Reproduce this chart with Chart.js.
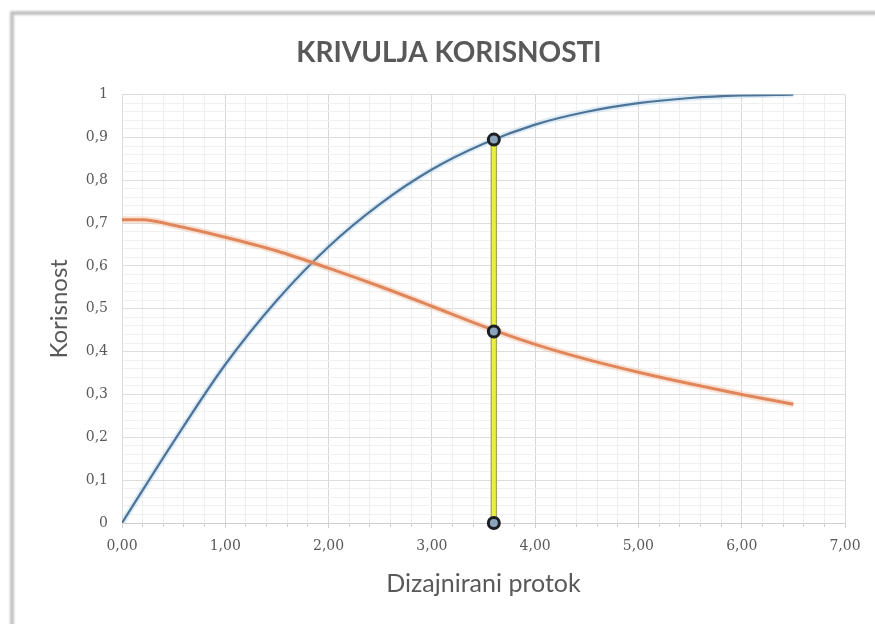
<!DOCTYPE html>
<html lang="hr">
<head>
    <meta charset="UTF-8">
    <title>Krivulja korisnosti</title>
    <script src="https://cdn.jsdelivr.net/npm/chart.js"></script>
    <style>
        body {
            margin: 0;
            background-color: #fff;
            overflow: hidden;
        }
        .frame {
            position: absolute;
            left: 10px;
            top: 11px;
            width: 900px;
            height: 700px;
            border-top: 4px solid #c2c2c2;
            border-left: 4px solid #c2c2c2;
            filter: blur(0.8px);
        }
        .wrap {
            position: absolute;
            left: 0;
            top: 0;
            width: 875px;
            height: 624px;
        }
    </style>
</head>
<body>
    <div class="frame"></div>
    <div class="wrap">
        <canvas id="utilityChart" width="875" height="624"></canvas>
    </div>

    <script>
        // values
        var blueX = [0, 0.5, 1, 1.5, 2, 2.5, 3, 3.5, 4, 4.5, 5, 5.5, 6, 6.5];
        var blueY = [0, 0.19, 0.37, 0.52, 0.645, 0.745, 0.825, 0.885, 0.93, 0.96, 0.98, 0.992, 0.998, 1.0];

        var orangeX = [0, 0.2, 0.5, 1, 1.5, 2, 2.5, 3, 3.5, 4, 4.5, 5, 5.5, 6, 6.5];
        var orangeY = [0.708, 0.708, 0.695, 0.667, 0.635, 0.595, 0.552, 0.506, 0.459, 0.417, 0.382, 0.352, 0.325, 0.3, 0.277];

        var designX = 3.6;
        var markerY = [0.895, 0.447, 0];

        var xTicks = [0, 1, 2, 3, 4, 5, 6, 7];
        var yTicks = [0, 0.1, 0.2, 0.3, 0.4, 0.5, 0.6, 0.7, 0.8, 0.9, 1];

        function toPoints(xs, ys) {
            return xs.map(function (x, i) { return { x: x, y: ys[i] }; });
        }

        var markers = markerY.map(function (y) { return { x: designX, y: y }; });
        var yellowLine = [{ x: designX, y: 0 }, { x: designX, y: markerY[0] }];

        function isMajor(v, step) {
            var r = v / step;
            return Math.abs(r - Math.round(r)) < 1e-6;
        }

        var ctx = document.getElementById('utilityChart').getContext('2d');
        var chart = new Chart(ctx, {
            type: 'scatter',
            data: {
                datasets: [
                    {
                        data: markers,
                        showLine: false,
                        clip: false,
                        pointRadius: 5.5,
                        pointBorderWidth: 3,
                        pointBorderColor: '#1b1e22',
                        pointBackgroundColor: '#8ba3bb'
                    },
                    {
                        data: yellowLine,
                        showLine: true,
                        borderColor: '#e9ef3c',
                        borderWidth: 4,
                        pointRadius: 0
                    },
                    {
                        data: yellowLine,
                        showLine: true,
                        borderColor: '#a4a65a',
                        borderWidth: 6.5,
                        pointRadius: 0
                    },
                    {
                        data: toPoints(orangeX, orangeY),
                        showLine: true,
                        borderColor: '#e0865a',
                        borderWidth: 3,
                        pointRadius: 0,
                        cubicInterpolationMode: 'monotone'
                    },
                    {
                        data: toPoints(orangeX, orangeY),
                        showLine: true,
                        borderColor: 'rgba(240,175,140,0.35)',
                        borderWidth: 7,
                        pointRadius: 0,
                        cubicInterpolationMode: 'monotone'
                    },
                    {
                        data: toPoints(blueX, blueY),
                        showLine: true,
                        borderColor: '#4d7398',
                        borderWidth: 2.2,
                        pointRadius: 0,
                        cubicInterpolationMode: 'monotone'
                    },
                    {
                        data: toPoints(blueX, blueY),
                        showLine: true,
                        borderColor: 'rgba(160,200,230,0.35)',
                        borderWidth: 6,
                        pointRadius: 0,
                        cubicInterpolationMode: 'monotone'
                    }
                ]
            },
            options: {
                responsive: false,
                animation: false,
                events: [],
                layout: {
                    padding: { left: 53, right: 30, top: 0, bottom: 0 }
                },
                plugins: {
                    legend: { display: false },
                    tooltip: { enabled: false },
                    title: {
                        display: true,
                        text: 'KRIVULJA KORISNOSTI',
                        color: '#595959',
                        font: { family: 'Lato', size: 28, weight: 'bold' },
                        padding: { top: 36, bottom: 25 }
                    }
                },
                scales: {
                    xMinor: {
                        type: 'linear',
                        position: 'bottom',
                        weight: 0,
                        min: 0,
                        max: 7,
                        ticks: { stepSize: 0.2, display: false },
                        grid: {
                            color: function (c) { return isMajor(c.tick.value, 1) ? 'rgba(0,0,0,0)' : '#eeeeee'; },
                            tickColor: '#d0d0d0',
                            tickLength: 4
                        },
                        border: { display: false },
                        afterFit: function (s) { s.height = 0; }
                    },
                    x: {
                        type: 'linear',
                        position: 'bottom',
                        weight: 1,
                        min: 0,
                        max: 7,
                        afterBuildTicks: function (s) {
                            s.ticks = xTicks.map(function (v) { return { value: v }; });
                        },
                        ticks: {
                            color: '#595959',
                            font: { family: 'DejaVu Serif', size: 14 },
                            padding: 10,
                            callback: function (v) { return v.toFixed(2).replace('.', ','); }
                        },
                        grid: {
                            color: '#d9d9d9',
                            tickColor: '#d0d0d0',
                            tickLength: 5
                        },
                        border: { color: '#d0d0d0' },
                        title: {
                            display: true,
                            text: 'Dizajnirani protok',
                            color: '#595959',
                            font: { family: 'Lato', size: 25 },
                            padding: { top: 0, bottom: 25 }
                        },
                        afterFit: function (s) { s.height = 101; }
                    },
                    yMinor: {
                        type: 'linear',
                        position: 'left',
                        weight: 0,
                        min: 0,
                        max: 1,
                        ticks: { stepSize: 0.02, display: false },
                        grid: {
                            color: function (c) { return isMajor(c.tick.value, 0.1) ? 'rgba(0,0,0,0)' : '#f0f0f0'; },
                            drawTicks: false
                        },
                        border: { display: false },
                        afterFit: function (s) { s.width = 0; }
                    },
                    y: {
                        type: 'linear',
                        position: 'left',
                        weight: 1,
                        min: 0,
                        max: 1,
                        afterBuildTicks: function (s) {
                            s.ticks = yTicks.map(function (v) { return { value: v }; });
                        },
                        ticks: {
                            color: '#595959',
                            font: { family: 'DejaVu Serif', size: 14 },
                            padding: 14,
                            callback: function (v) {
                                if (v === 0 || v === 1) return String(v);
                                return v.toFixed(1).replace('.', ',');
                            }
                        },
                        grid: {
                            color: '#dddddd',
                            drawTicks: false
                        },
                        border: { color: '#dddddd' },
                        title: {
                            display: true,
                            text: 'Korisnost',
                            color: '#595959',
                            font: { family: 'Lato', size: 24 },
                            padding: { top: -8, bottom: 0 }
                        },
                        afterFit: function (s) { s.width = 69; }
                    }
                }
            }
        });
    </script>
</body>
</html>
